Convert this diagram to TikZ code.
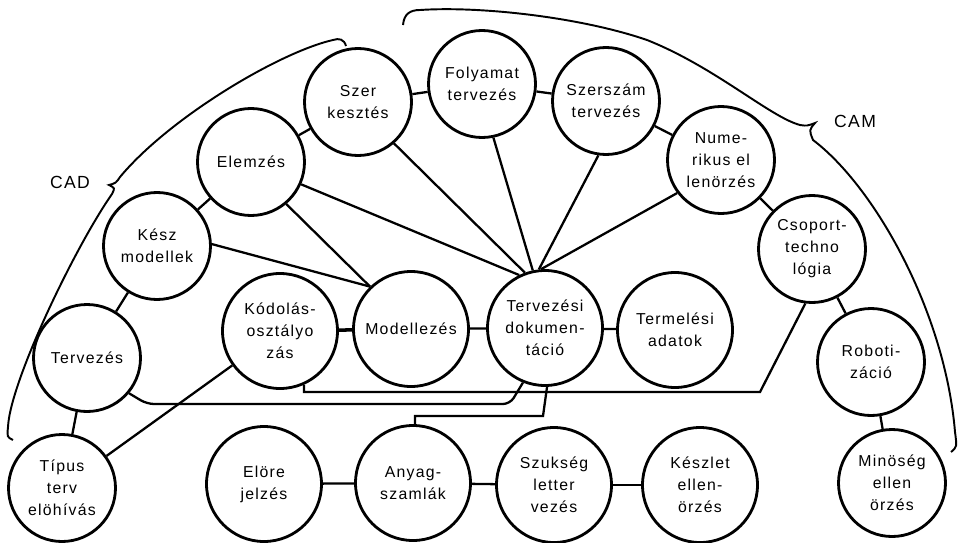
\documentclass[tikz,border=0pt]{standalone}
\usepackage{fontspec}
\setmainfont[LetterSpace=8]{Liberation Sans}
\begin{document}
\begin{tikzpicture}[
  circ/.style={circle,draw,line width=1.6pt,minimum size=2.14cm,inner sep=0pt,align=center,font=\fontsize{9}{12.5}\selectfont},
  bigcirc/.style={circ,minimum size=2.3cm},
  link/.style={line width=1.3pt},
  brace/.style={line width=1.1pt}]
\useasboundingbox (0,0) rectangle (19.2,10.84);

% outer ring
\node[circ] (tipus) at (1.24,1.08) {Típus\\terv\\elöhívás};
\node[circ] (tervezes) at (1.74,3.68) {Tervezés};
\node[circ] (kesz) at (3.14,5.92) {Kész\\modellek};
\node[circ] (elemzes) at (5.02,7.60) {Elemzés};
\node[circ] (szer) at (7.16,8.80) {Szer\\kesztés};
\node[circ] (folyamat) at (9.64,9.16) {Folyamat\\tervezés};
\node[circ] (szerszam) at (12.12,8.82) {Szerszám\\tervezés};
\node[circ] (numerikus) at (14.42,7.64) {Nume-\\rikus el\\lenörzés};
\node[circ] (csoport) at (16.24,5.86) {Csoport-\\techno\\lógia};
\node[circ] (robot) at (17.42,3.60) {Roboti-\\záció};
\node[circ] (minoseg) at (17.84,1.18) {Minöség\\ellen\\örzés};

% middle row
\node[bigcirc] (kodolas) at (5.60,4.22) {Kódolás-\\osztályo\\zás};
\node[bigcirc] (modell) at (8.22,4.26) {Modellezés};
\node[bigcirc] (tdok) at (10.90,4.28) {Tervezési\\dokumen-\\táció};
\node[bigcirc] (termel) at (13.50,4.24) {Termelési\\adatok};

% bottom row
\node[bigcirc] (elore) at (5.28,1.16) {Elöre\\jelzés};
\node[bigcirc] (anyag) at (8.26,1.18) {Anyag-\\szamlák};
\node[bigcirc] (szukseg) at (11.08,1.14) {Szukség\\letter\\vezés};
\node[bigcirc] (keszlet) at (14.00,1.14) {Készlet\\ellen-\\örzés};

\node[font=\fontsize{10}{12}\selectfont] (cad) at (1.40,7.20) {CAD};
\node[font=\fontsize{10}{12}\selectfont] (cam) at (17.10,8.42) {CAM};

% chain
\draw[link] (tipus) -- (tervezes);
\draw[link] (tervezes) -- (kesz);
\draw[link] (kesz) -- (elemzes);
\draw[link] (elemzes) -- (szer);
\draw[link] (szer) -- (folyamat);
\draw[link] (folyamat) -- (szerszam);
\draw[link] (szerszam) -- (numerikus);
\draw[link] (numerikus) -- (csoport);
\draw[link] (csoport) -- (robot);
\draw[link] (robot) -- (minoseg);
\draw[link,line width=2pt] (kodolas) -- (modell);
\draw[link] (modell) -- (tdok);
\draw[link] (tdok) -- (termel);
\draw[link] (elore) -- (anyag);
\draw[link] (anyag) -- (szukseg);
\draw[link] (szukseg) -- (keszlet);

% spokes
\draw[link] (kesz.2) -- (modell.134);
\draw[link] (elemzes.-50) -- (modell.134);
\draw[link] (elemzes.-24) -- (tdok.116);
\draw[link] (szer.-49) -- (tdok.110);
\draw[link] (folyamat.-78) -- (tdok.102);
\draw[link] (szerszam.-98) -- (tdok.96);
\draw[link] (numerikus.-143) -- (tdok.94);
\draw[link] (tipus) -- (kodolas);

% lines under the middle row
\draw[link] (kodolas.-66) |- (15.2,3.0) -- (csoport.-97);
\draw[link,rounded corners=4pt] (tervezes.-40) -- (2.94,2.76) -- (10.2,2.76) -- (tdok.-112);
\draw[link] (anyag.88) |- (10.86,2.52) -- (tdok.-88);

% CAD brace
\draw[brace] (6.92,9.92) .. controls (6.88,10.06) and (6.78,10.08) .. (6.66,10.04)
  .. controls (5.6,9.8) and (3.4,8.5) .. (2.40,7.30)
  .. controls (2.32,7.18) .. (2.18,7.14)
  .. controls (2.30,7.08) .. (2.24,6.96)
  .. controls (1.5,5.9) and (0.2,3.2) .. (0.16,2.30)
  .. controls (0.14,2.10) .. (0.26,2.04);

% CAM brace
\draw[brace] (8.06,10.34) .. controls (8.08,10.56) and (8.20,10.64) .. (8.40,10.64)
  .. controls (9.6,10.72) and (11.6,10.5) .. (12.94,10.04)
  .. controls (14.3,9.5) and (15.4,8.5) .. (16.00,8.34)
  .. controls (16.14,8.32) .. (16.30,8.38)
  .. controls (16.18,8.24) .. (16.26,8.04)
  .. controls (17.5,7.1) and (18.9,4.6) .. (19.10,2.20)
  .. controls (19.14,1.90) .. (19.02,1.80);
\end{tikzpicture}
\end{document}
